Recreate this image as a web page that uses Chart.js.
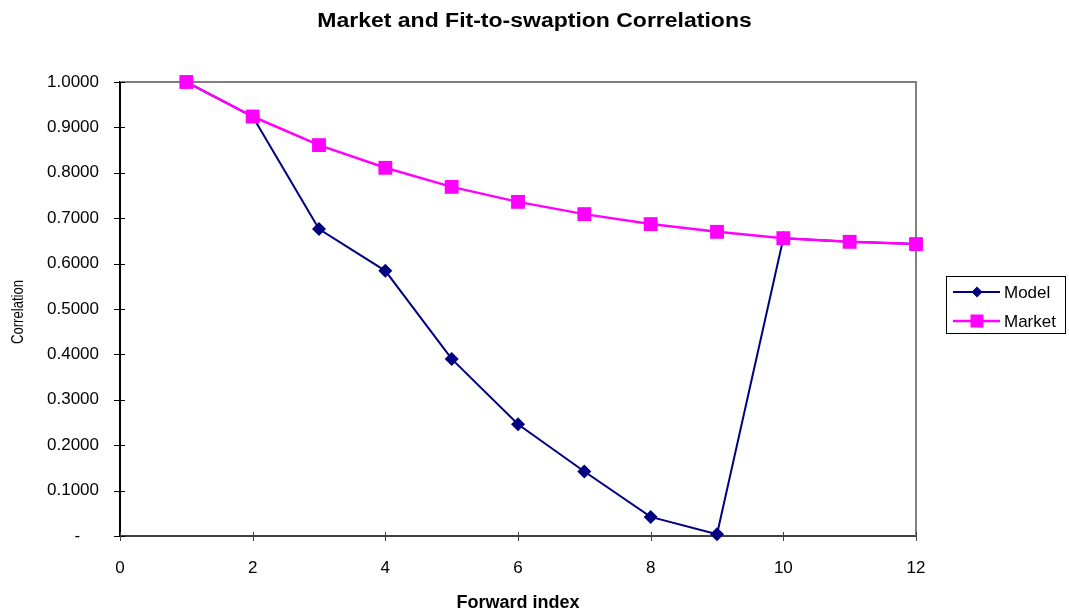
<!DOCTYPE html>
<html>
<head>
<meta charset="utf-8">
<title>Market and Fit-to-swaption Correlations</title>
<script src="https://cdn.jsdelivr.net/npm/chart.js@4"></script>
<style>
  html, body { margin: 0; padding: 0; background: #ffffff; }
  #wrap { width: 1069px; height: 615px; }
</style>
</head>
<body>
<div id="wrap"><canvas id="chart" width="1069" height="615"></canvas></div>
<script>
// Forward index (x) for each correlation point
const forwardIndex = [1, 2, 3, 4, 5, 6, 7, 8, 9, 10, 11, 12];
// Fit-to-swaption model correlations
const modelCorr = [1.0000, 0.9240, 0.6760, 0.5840, 0.3900, 0.2460, 0.1420, 0.0420, 0.0040, 0.6560, 0.6480, 0.6430];
// Market correlations
const marketCorr = [1.0000, 0.9240, 0.8610, 0.8110, 0.7690, 0.7360, 0.7090, 0.6870, 0.6700, 0.6560, 0.6480, 0.6430];
// Axis tick settings
const xTicks = { min: 0, max: 12, step: 2 };
const yTicks = { min: 0, max: 1, step: 0.1 };
// Text
const chartTitle = 'Market and Fit-to-swaption Correlations';
const xTitle = 'Forward index';
const yTitle = 'Correlation';

const FONT = "'Liberation Sans', Arial, Helvetica, sans-serif";

function toPoints(xs, ys) { return xs.map((x, i) => ({ x: x, y: ys[i] })); }

// White page background
const bgPlugin = {
  id: 'bg',
  beforeDraw(chart) {
    const c = chart.ctx;
    c.save();
    c.fillStyle = '#ffffff';
    c.fillRect(0, 0, chart.width, chart.height);
    c.restore();
  }
};

// Chart title (slightly widened) and the condensed, rotated y-axis title
const titlesPlugin = {
  id: 'titles',
  afterDraw(chart) {
    const { ctx, chartArea: a } = chart;
    ctx.save();
    ctx.fillStyle = '#000000';
    ctx.textAlign = 'center';
    ctx.textBaseline = 'alphabetic';
    ctx.font = 'bold 20px ' + FONT;
    ctx.translate(chart.width / 2, 27);
    ctx.scale(1.15, 1);
    ctx.fillText(chartTitle, 0, 0);
    ctx.restore();

    ctx.save();
    ctx.fillStyle = '#000000';
    ctx.textAlign = 'center';
    ctx.textBaseline = 'middle';
    ctx.font = '16px ' + FONT;
    ctx.translate(19, (a.top + a.bottom) / 2 + 3);
    ctx.rotate(-Math.PI / 2);
    ctx.scale(0.82, 1);
    ctx.fillText(yTitle, 0, 0);
    ctx.restore();
  }
};

// Plot-area frame (top/right) and tick marks crossing the axes
const framePlugin = {
  id: 'frame',
  beforeDatasetsDraw(chart) {
    const { ctx, chartArea: a } = chart;
    ctx.save();
    ctx.strokeStyle = '#808080';
    ctx.lineWidth = 2;
    ctx.beginPath();
    ctx.moveTo(a.left, a.top);
    ctx.lineTo(a.right, a.top);
    ctx.lineTo(a.right, a.bottom);
    ctx.stroke();
    ctx.restore();
  },
  afterDraw(chart) {
    const { ctx, chartArea: a, scales } = chart;
    ctx.save();
    ctx.lineWidth = 1;
    ctx.strokeStyle = '#000000';
    scales.y.ticks.forEach(t => {
      const py = Math.round(scales.y.getPixelForValue(t.value)) + 0.5;
      ctx.beginPath();
      ctx.moveTo(a.left - 6, py);
      ctx.lineTo(a.left + 5, py);
      ctx.stroke();
    });
    ctx.strokeStyle = '#404040';
    scales.x.ticks.forEach(t => {
      const px = Math.round(scales.x.getPixelForValue(t.value)) + 0.5;
      ctx.beginPath();
      ctx.moveTo(px, a.bottom - 4);
      ctx.lineTo(px, a.bottom + 5);
      ctx.stroke();
    });
    ctx.restore();
  }
};

// Boxed legend to the right of the plot
const boxLegend = {
  id: 'boxLegend',
  afterDraw(chart) {
    const ctx = chart.ctx;
    const box = { x: 946.5, y: 276.5, w: 119, h: 57 };
    ctx.save();
    ctx.strokeStyle = '#000000';
    ctx.lineWidth = 1;
    ctx.strokeRect(box.x, box.y, box.w, box.h);
    const rows = [292, 321];
    chart.data.datasets.forEach((ds, i) => {
      const y = rows[i];
      ctx.strokeStyle = ds.borderColor;
      ctx.lineWidth = ds.borderWidth;
      ctx.beginPath();
      ctx.moveTo(953, y);
      ctx.lineTo(1000, y);
      ctx.stroke();
      ctx.fillStyle = ds.pointBackgroundColor;
      const cx = 977;
      if (ds.pointStyle === 'rectRot') {
        const r = 5.5;
        ctx.beginPath();
        ctx.moveTo(cx, y - r);
        ctx.lineTo(cx + r, y);
        ctx.lineTo(cx, y + r);
        ctx.lineTo(cx - r, y);
        ctx.closePath();
        ctx.fill();
      } else {
        const s = 6.5;
        ctx.fillRect(cx - s, y - s, 2 * s, 2 * s);
      }
      ctx.fillStyle = '#000000';
      ctx.font = '17px ' + FONT;
      ctx.textAlign = 'left';
      ctx.textBaseline = 'middle';
      ctx.fillText(ds.label, 1004, y + 1);
    });
    ctx.restore();
  }
};

new Chart(document.getElementById('chart'), {
  type: 'line',
  data: {
    datasets: [
      {
        label: 'Model',
        data: toPoints(forwardIndex, modelCorr),
        borderColor: '#000080',
        backgroundColor: '#000080',
        pointBackgroundColor: '#000080',
        pointBorderColor: '#000080',
        borderWidth: 2,
        pointStyle: 'rectRot',
        pointRadius: 7,
        pointBorderWidth: 0,
        tension: 0,
        order: 1
      },
      {
        label: 'Market',
        data: toPoints(forwardIndex, marketCorr),
        borderColor: '#ff00ff',
        backgroundColor: '#ff00ff',
        pointBackgroundColor: '#ff00ff',
        pointBorderColor: '#ff00ff',
        borderWidth: 2.5,
        pointStyle: 'rect',
        pointRadius: 9.8,
        pointBorderWidth: 0,
        tension: 0,
        order: 0
      }
    ]
  },
  options: {
    responsive: false,
    animation: false,
    clip: false,
    layout: { padding: { left: 0, right: 153, top: 82, bottom: 0 } },
    plugins: {
      legend: { display: false },
      tooltip: { enabled: false },
      title: { display: false }
    },
    scales: {
      x: {
        type: 'linear',
        min: xTicks.min,
        max: xTicks.max,
        afterFit(scale) { scale.height = 79; },
        ticks: {
          stepSize: xTicks.step,
          color: '#000000',
          font: { family: FONT, size: 17 },
          padding: 22,
          maxRotation: 0
        },
        grid: { drawOnChartArea: false, drawTicks: false },
        border: { color: '#404040', width: 2 },
        title: {
          display: true,
          text: xTitle,
          color: '#000000',
          font: { family: FONT, size: 18, weight: 'bold' },
          padding: { top: 0, bottom: 1 }
        }
      },
      y: {
        type: 'linear',
        min: yTicks.min,
        max: yTicks.max,
        afterFit(scale) { scale.width = 120; },
        ticks: {
          stepSize: yTicks.step,
          color: '#000000',
          font: { family: FONT, size: 17 },
          padding: 21,
          callback: (v) => (Math.abs(v) < 1e-9 ? '-\u00a0\u00a0\u00a0\u00a0' : Number(v).toFixed(4))
        },
        grid: { drawOnChartArea: false, drawTicks: false },
        border: { color: '#000000', width: 2 },
        title: { display: false }
      }
    }
  },
  plugins: [bgPlugin, framePlugin, boxLegend, titlesPlugin]
});
</script>
</body>
</html>
